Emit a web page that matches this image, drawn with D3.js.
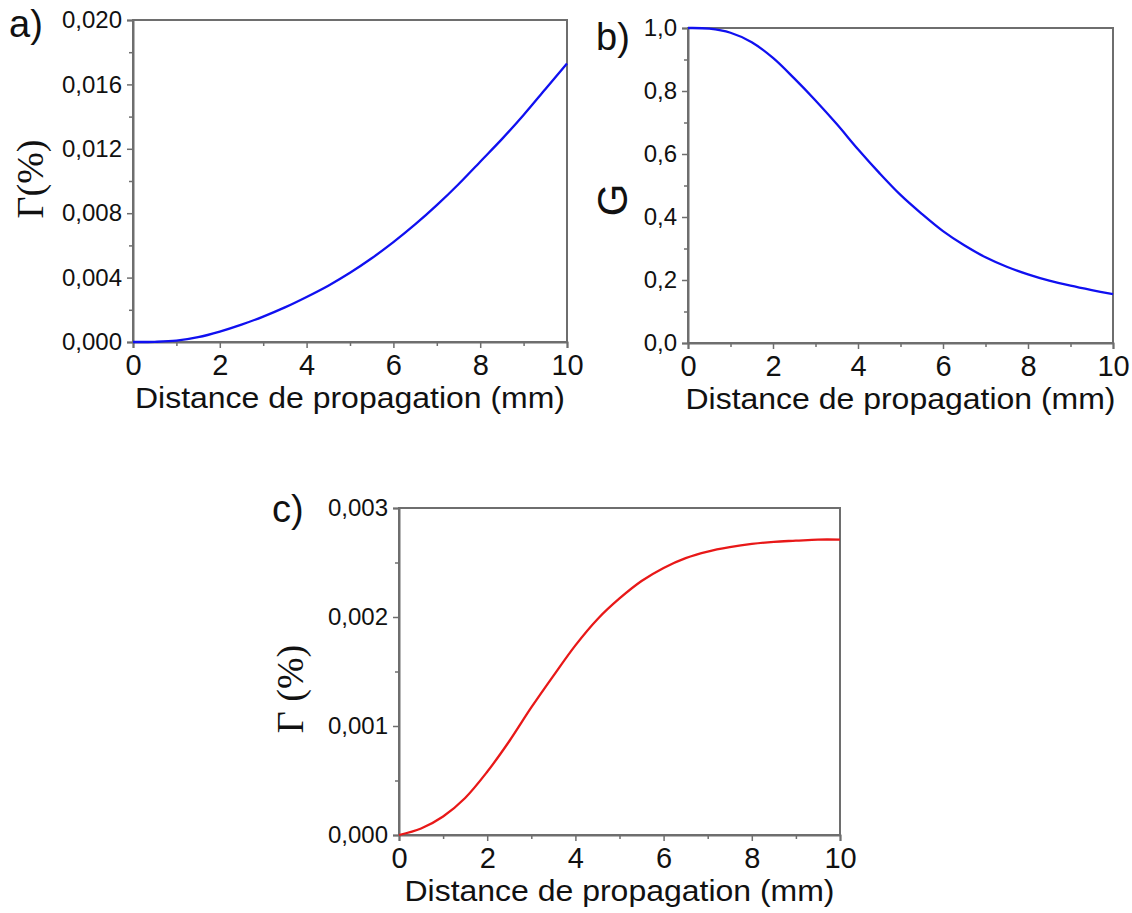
<!DOCTYPE html>
<html>
<head>
<meta charset="utf-8">
<script src="https://cdn.jsdelivr.net/npm/d3@7"></script>
<style>
  html, body { margin: 0; padding: 0; background: #fff; }
  svg { display: block; }
</style>
</head>
<body>
<svg id="chart" width="1132" height="913"></svg>
<script>
// ---- data ----
const distance = [0,0.5,1,1.5,2,2.5,3,3.5,4,4.5,5,5.5,6,6.5,7,7.5,8,8.5,9,9.5,10];
const gammaA = [0,0.00001,0.00008,0.0003,0.00065,0.00108,0.00158,0.00215,0.0028,0.0035,0.0043,0.0052,0.0062,0.0073,0.0085,0.0098,0.0112,0.0126,0.0141,0.0157,0.0173];
const gainB = [1.0,0.998,0.985,0.955,0.905,0.84,0.77,0.695,0.615,0.54,0.47,0.41,0.355,0.31,0.272,0.242,0.218,0.198,0.182,0.168,0.155];
const gammaC = [0,0.00006,0.00017,0.00034,0.00058,0.00086,0.00117,0.00146,0.00174,0.00198,0.00217,0.00233,0.00245,0.00254,0.0026,0.00264,0.00267,0.00269,0.0027,0.00271,0.00271];

const xTicks = [0,2,4,6,8,10];
const xMinor = [1,3,5,7,9];
const yTicksA = [0,0.004,0.008,0.012,0.016,0.020];
const yTicksB = [0,0.2,0.4,0.6,0.8,1.0];
const yTicksC = [0,0.001,0.002,0.003];
const xTitle = "Distance de propagation (mm)";

const svg = d3.select("#chart");
const frameColor = "#6e6e6e";
const sans = "Liberation Sans, Arial, sans-serif";

function comma(fmt) { const f = d3.format(fmt); return v => f(v).replace(".", ","); }

function panel(o) {
  const x = d3.scaleLinear().domain([0, 10]).range([o.left, o.right]);
  const y = d3.scaleLinear().domain(o.yDomain).range([o.bottom, o.top]);
  const g = svg.append("g");

  g.append("rect").attr("x", o.left).attr("y", o.top)
    .attr("width", o.right - o.left).attr("height", o.bottom - o.top)
    .attr("fill", "none").attr("stroke", frameColor).attr("stroke-width", 2);

  const xa = g.append("g").attr("transform", `translate(0,${o.bottom})`)
    .call(d3.axisBottom(x).tickValues(xTicks).tickSize(6).tickPadding(6).tickFormat(d3.format("d")));
  xa.select(".domain").attr("stroke", frameColor).attr("stroke-width", 2);
  xa.selectAll(".tick line").attr("stroke", frameColor).attr("stroke-width", 1.5);
  xa.selectAll(".tick text").attr("font-family", sans)
    .attr("font-size", 29).attr("fill", "#111").attr("dy", "0.71em");
  const xm = g.append("g").attr("transform", `translate(0,${o.bottom})`)
    .call(d3.axisBottom(x).tickValues(xMinor).tickSize(4).tickFormat(""));
  xm.select(".domain").remove();
  xm.selectAll(".tick line").attr("stroke", frameColor).attr("stroke-width", 1.5);

  const ya = g.append("g").attr("transform", `translate(${o.left},0)`)
    .call(d3.axisLeft(y).tickValues(o.yTicks).tickSize(6).tickPadding(5).tickFormat(comma(o.fmt)));
  ya.select(".domain").attr("stroke", frameColor).attr("stroke-width", 2);
  ya.selectAll(".tick line").attr("stroke", frameColor).attr("stroke-width", 1.5);
  ya.selectAll(".tick text").attr("font-family", sans)
    .attr("font-size", 24).attr("fill", "#111");
  const ym = g.append("g").attr("transform", `translate(${o.left},0)`)
    .call(d3.axisLeft(y).tickValues(o.yMinor).tickSize(4).tickFormat(""));
  ym.select(".domain").remove();
  ym.selectAll(".tick line").attr("stroke", frameColor).attr("stroke-width", 1.5);

  const line = d3.line().x((d, i) => x(distance[i])).y(d => y(d)).curve(d3.curveCatmullRom.alpha(0.5));
  g.append("path").datum(o.values).attr("d", line)
    .attr("fill", "none").attr("stroke", o.color).attr("stroke-width", 2.3);

  g.append("text").attr("x", (o.left + o.right) / 2).attr("y", o.bottom + 66)
    .attr("text-anchor", "middle").attr("font-family", sans)
    .attr("font-size", 29).attr("fill", "#111")
    .attr("textLength", 430).attr("lengthAdjust", "spacingAndGlyphs")
    .text(xTitle);

  g.append("text").attr("transform", `translate(${o.yTitleX},${o.yTitleY}) rotate(-90)`)
    .attr("text-anchor", "middle").attr("font-family", o.yTitleFont)
    .attr("font-size", o.yTitleSize).attr("fill", "#111")
    .text(o.yTitle);

  g.append("text").attr("x", o.labelX).attr("y", o.labelY)
    .attr("font-family", sans)
    .attr("font-size", 38).attr("fill", "#111").text(o.label);
}

panel({ left: 133, right: 567, top: 20, bottom: 342, yDomain: [0, 0.02],
  yTicks: yTicksA, yMinor: [0.002,0.006,0.010,0.014,0.018], fmt: ".3f",
  values: gammaA, color: "#1010f0", yTitle: "Γ(%)", yTitleX: 43, yTitleY: 179,
  yTitleFont: "Liberation Serif, Times New Roman, serif", yTitleSize: 38,
  label: "a)", labelX: 9, labelY: 37 });

panel({ left: 688, right: 1113, top: 28, bottom: 343, yDomain: [0, 1.0],
  yTicks: yTicksB, yMinor: [0.1,0.3,0.5,0.7,0.9], fmt: ".1f",
  values: gainB, color: "#1010f0", yTitle: "G", yTitleX: 627, yTitleY: 200,
  yTitleFont: sans, yTitleSize: 42,
  label: "b)", labelX: 596, labelY: 50 });

panel({ left: 399, right: 840, top: 508, bottom: 835, yDomain: [0, 0.003],
  yTicks: yTicksC, yMinor: [0.0005,0.0015,0.0025], fmt: ".3f",
  values: gammaC, color: "#e81818", yTitle: "Γ (%)", yTitleX: 303, yTitleY: 689,
  yTitleFont: "Liberation Serif, Times New Roman, serif", yTitleSize: 38,
  label: "c)", labelX: 272, labelY: 522 });
</script>
</body>
</html>
